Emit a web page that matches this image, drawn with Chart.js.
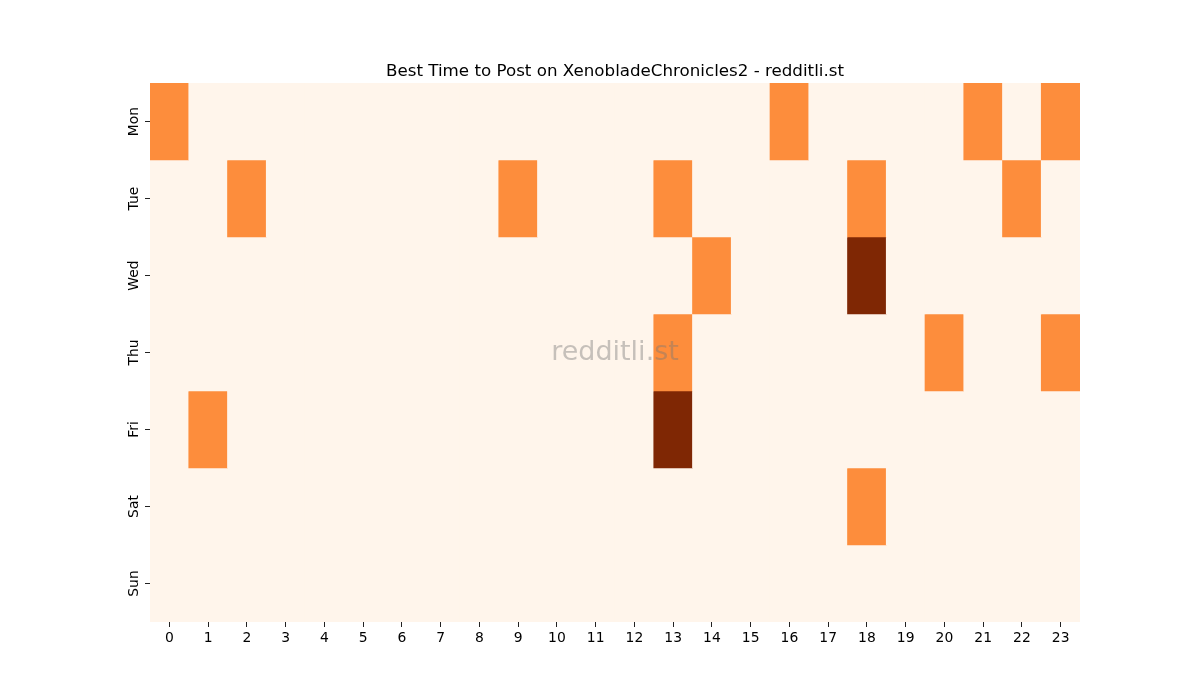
<!DOCTYPE html>
<html>
<head>
<meta charset="utf-8">
<title>Best Time to Post on XenobladeChronicles2</title>
<script src="https://cdn.jsdelivr.net/npm/chart.js@4.4.1/dist/chart.umd.min.js"></script>
<style>
  html, body { margin: 0; padding: 0; background: #ffffff; }
  #wrap { width: 1200px; height: 700px; position: relative; }
</style>
</head>
<body>
<div id="wrap"><canvas id="heatChart"></canvas></div>
<script>
// hours on the x axis, days on the y axis
const hours = ["0", "1", "2", "3", "4", "5", "6", "7", "8", "9", "10", "11",
               "12", "13", "14", "15", "16", "17", "18", "19", "20", "21", "22", "23"];
const days = ["Mon", "Tue", "Wed", "Thu", "Fri", "Sat", "Sun"];

// number of top posts per hour, one array per day
const mon = [1, 0, 0, 0, 0, 0, 0, 0, 0, 0, 0, 0, 0, 0, 0, 0, 1, 0, 0, 0, 0, 1, 0, 1];
const tue = [0, 0, 1, 0, 0, 0, 0, 0, 0, 1, 0, 0, 0, 1, 0, 0, 0, 0, 1, 0, 0, 0, 1, 0];
const wed = [0, 0, 0, 0, 0, 0, 0, 0, 0, 0, 0, 0, 0, 0, 1, 0, 0, 0, 2, 0, 0, 0, 0, 0];
const thu = [0, 0, 0, 0, 0, 0, 0, 0, 0, 0, 0, 0, 0, 1, 0, 0, 0, 0, 0, 0, 1, 0, 0, 1];
const fri = [0, 1, 0, 0, 0, 0, 0, 0, 0, 0, 0, 0, 0, 2, 0, 0, 0, 0, 0, 0, 0, 0, 0, 0];
const sat = [0, 0, 0, 0, 0, 0, 0, 0, 0, 0, 0, 0, 0, 0, 0, 0, 0, 0, 1, 0, 0, 0, 0, 0];
const sun = [0, 0, 0, 0, 0, 0, 0, 0, 0, 0, 0, 0, 0, 0, 0, 0, 0, 0, 0, 0, 0, 0, 0, 0];

const rows = [mon, tue, wed, thu, fri, sat, sun];
const palette = ["#fff5eb", "#fd8d3c", "#7f2704"]; // Oranges, vmax = 2

document.addEventListener("DOMContentLoaded", function (event) {
  const heatChart = document.getElementById("heatChart");

  const datasets = rows.map(function (vals, r) {
    return {
      label: days[r],
      data: vals.map(function () { return [r, r + 1]; }),
      backgroundColor: vals.map(function (v) { return palette[v]; }),
      borderWidth: 0,
      borderSkipped: false,
      grouped: false,
      categoryPercentage: 1.0,
      barPercentage: 1.0,
    };
  });

  // cream background under the cells, so no seams between bars
  const areaFill = {
    id: "areaFill",
    beforeDatasetsDraw(chart) {
      const { ctx, chartArea } = chart;
      ctx.save();
      ctx.fillStyle = palette[0];
      ctx.fillRect(chartArea.left, chartArea.top, chartArea.width, chartArea.height);
      ctx.restore();
    },
  };

  const watermark = {
    id: "watermark",
    afterDatasetsDraw(chart) {
      const { ctx, chartArea } = chart;
      ctx.save();
      ctx.font = "27px 'DejaVu Sans'";
      ctx.fillStyle = "rgba(120, 120, 120, 0.42)";
      ctx.textAlign = "center";
      ctx.textBaseline = "middle";
      ctx.fillText("redditli.st", (chartArea.left + chartArea.right) / 2, (chartArea.top + chartArea.bottom) / 2);
      ctx.restore();
    },
  };

  new Chart(heatChart, {
    type: "bar",
    data: {
      labels: hours,
      datasets: datasets,
    },
    plugins: [areaFill, watermark],
    options: {
      responsive: true,
      maintainAspectRatio: false,
      animation: false,
      layout: {
        padding: { left: 100, right: 120, top: 62, bottom: 48 },
      },
      plugins: {
        legend: { display: false },
        tooltip: { enabled: false },
        title: {
          display: true,
          text: "Best Time to Post on XenobladeChronicles2 - redditli.st",
          fullSize: false,
          color: "#000000",
          font: { family: "'DejaVu Sans'", size: 16.7, weight: "normal" },
          padding: { top: 0, bottom: 1 },
        },
      },
      scales: {
        x: {
          type: "category",
          offset: true,
          border: { display: false },
          grid: { drawOnChartArea: false, drawTicks: true, tickLength: 5, color: "#222222", offset: false },
          ticks: {
            color: "#000000",
            font: { family: "'DejaVu Sans'", size: 13.9 },
            padding: 3,
            maxRotation: 0,
            autoSkip: false,
          },
          afterFit: function (scale) { scale.height = 30; },
        },
        y: {
          type: "linear",
          min: 0,
          max: 7,
          reverse: true,
          border: { display: false },
          grid: { drawOnChartArea: false, drawTicks: true, tickLength: 5, color: "#222222" },
          afterBuildTicks: function (scale) {
            scale.ticks = days.map(function (d, i) { return { value: i + 0.5 }; });
          },
          ticks: {
            color: "#000000",
            font: { family: "'DejaVu Sans'", size: 13.9 },
            padding: -5,
            minRotation: 90,
            maxRotation: 90,
            crossAlign: "center",
            callback: function (value) { return days[Math.floor(value)]; },
          },
          afterFit: function (scale) { scale.width = 50; },
        },
      },
    },
  });
});
</script>
</body>
</html>
